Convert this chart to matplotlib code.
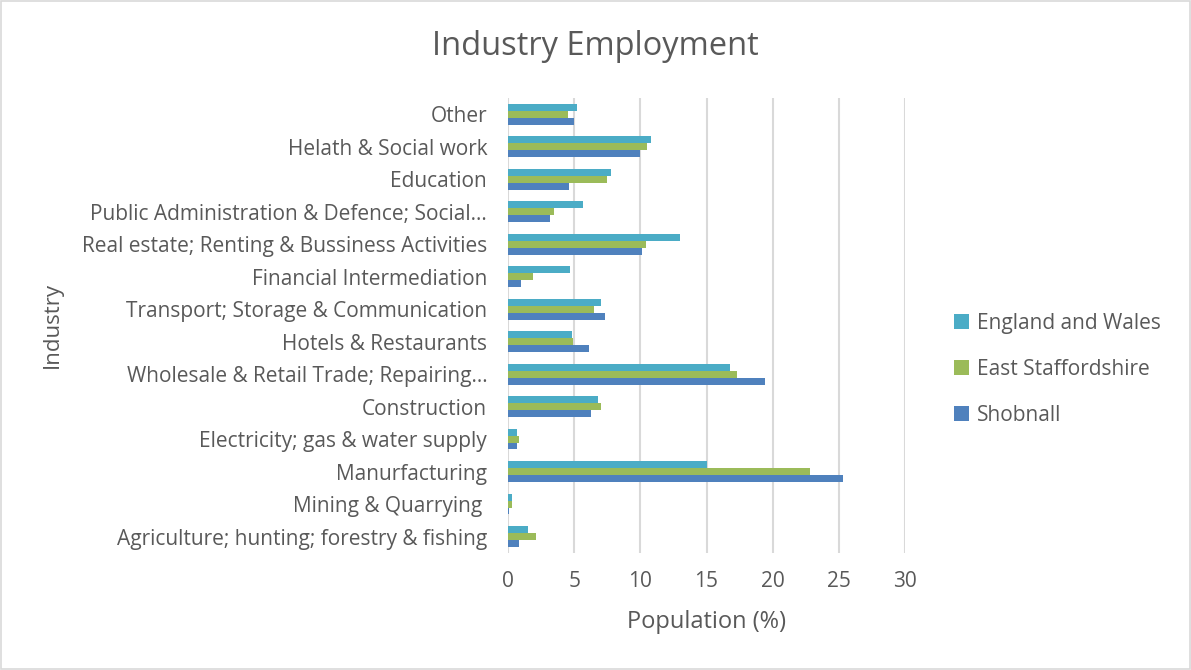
import numpy as np
import matplotlib.pyplot as plt
from matplotlib.patches import Rectangle

plt.rcParams['font.family'] = ['Open Sans', 'DejaVu Sans']

# categories, bottom to top
industries = [
    'Agriculture; hunting; forestry & fishing',
    'Mining & Quarrying ',
    'Manurfacturing',
    'Electricity; gas & water supply',
    'Construction',
    'Wholesale & Retail Trade; Repairing\u2026',
    'Hotels & Restaurants',
    'Transport; Storage & Communication',
    'Financial Intermediation',
    'Real estate; Renting & Bussiness Activities',
    'Public Administration & Defence; Social\u2026',
    'Education',
    'Helath & Social work',
    'Other',
]
england_wales = [1.5, 0.3, 15.0, 0.7, 6.8, 16.8, 4.8, 7.0, 4.7, 13.0, 5.7, 7.8, 10.8, 5.2]
east_staffs = [2.1, 0.3, 22.8, 0.8, 7.0, 17.3, 4.9, 6.5, 1.9, 10.4, 3.5, 7.5, 10.5, 4.5]
shobnall = [0.8, 0.05, 25.3, 0.7, 6.3, 19.4, 6.1, 7.3, 1.0, 10.1, 3.2, 4.6, 10.0, 5.0]
x_ticks = [0, 5, 10, 15, 20, 25, 30]

text_col = '#595959'
fig = plt.figure(figsize=(11.91, 6.70), dpi=100)
ax = fig.add_axes([0.4265, 0.175, 0.3335, 0.679])

y = np.arange(len(industries))
h = 0.215
ax.barh(y - h, shobnall, height=h, color='#4F81BD', label='Shobnall', zorder=3)
ax.barh(y, east_staffs, height=h, color='#9BBB59', label='East Staffordshire', zorder=3)
ax.barh(y + h, england_wales, height=h, color='#4BACC6', label='England and Wales', zorder=3)

ax.set_xlim(0, 30)
ax.set_ylim(-0.5, len(industries) - 0.5)
ax.set_xticks(x_ticks)
ax.set_yticks(y)
ax.set_yticklabels(industries)
ax.tick_params(axis='both', length=0, labelsize=15, colors=text_col)
ax.tick_params(axis='y', pad=15)
ax.tick_params(axis='x', pad=13)
ax.grid(axis='x', color='#D9D9D9', linewidth=1.5, zorder=0)
for s in ax.spines.values():
    s.set_visible(False)

ax.set_xlabel('Population (%)', fontsize=17, color=text_col, labelpad=13)
fig.text(0.044, 0.515, 'Industry', rotation=90, fontsize=16, color=text_col,
         ha='center', va='center')
fig.text(0.5, 0.93, 'Industry Employment', fontsize=23.5, color=text_col,
         ha='center', va='center')

handles, labels = ax.get_legend_handles_labels()
leg = fig.legend(handles[::-1], labels[::-1], loc='center left',
                 bbox_to_anchor=(0.785, 0.449), frameon=False, fontsize=15,
                 handlelength=0.75, handleheight=0.75, handletextpad=0.35,
                 labelspacing=1.2, labelcolor=text_col)

fig.patches.append(Rectangle((0.0008, 0.0015), 0.9984, 0.997, transform=fig.transFigure,
                             fill=False, edgecolor='#D9D9D9', linewidth=1.2))

fig.savefig('out.png', dpi=100, facecolor='white')
